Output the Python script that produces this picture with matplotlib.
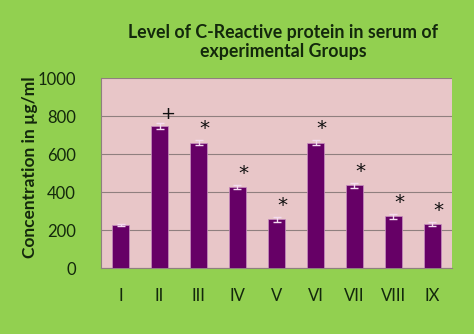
import matplotlib
import numpy as np

matplotlib.use("Agg")

from matplotlib import pyplot as plt  # noqa: E402

groups = ["I", "II", "III", "IV", "V", "VI", "VII", "VIII", "IX"]
crp_means = [228, 749, 661, 426, 258, 661, 437, 274, 235]
crp_errors = [4, 14, 14, 10, 12, 12, 14, 12, 10]
significance = ["", "+", "*", "*", "*", "*", "*", "*", "*"]

GREEN = "#92d050"
TEXT = "#13280c"
BAR = "#660066"

plt.rcParams["font.family"] = ["Lato", "DejaVu Sans"]

figure = plt.figure(figsize=(4.74, 3.34), dpi=100, facecolor=GREEN)
axis = figure.add_axes([101 / 474, 1 - 268.3 / 334, 351 / 474, 190 / 334])
axis.set_facecolor("#e8c6c8")

x = np.arange(len(groups))
axis.bar(x, crp_means, width=0.42, color=BAR, edgecolor="#c890c0",
         linewidth=0.5, zorder=3)
axis.errorbar(
    x, crp_means, yerr=crp_errors, fmt="none",
    ecolor="#f4dcf0", elinewidth=1.0, capsize=3, capthick=1.0, zorder=4,
)
# significance marks sit above each error bar, nudged right
for pos, mean, err, mark in zip(x, crp_means, crp_errors, significance):
    if not mark:
        continue
    is_plus = mark == "+"
    axis.text(
        pos + 0.2 if is_plus else pos + 0.15,
        mean + err + (24 if is_plus else 32),
        mark, ha="center", va="baseline",
        fontsize=13 if is_plus else 14.5,
        color="#101010", family=["DejaVu Sans"], zorder=5,
    )

axis.set_xlim(-0.5, len(groups) - 0.5)
axis.set_ylim(0, 1000)
axis.set_yticks(range(0, 1001, 200))
axis.set_xticks(x)
axis.set_xticklabels(groups)
axis.tick_params(axis="both", length=0, colors=TEXT, labelsize=12)
axis.tick_params(axis="x", pad=14)
axis.tick_params(axis="y", pad=18)
axis.grid(axis="y", color="#8f7f7f", linewidth=0.8, zorder=1)
for side in ("top", "right"):
    axis.spines[side].set_visible(False)
for side in ("left", "bottom"):
    axis.spines[side].set_color("#8f7f7f")
    axis.spines[side].set_linewidth(0.8)

axis.set_ylabel("Concentration in µg/ml", color=TEXT, fontsize=12.5,
                fontweight="bold")
axis.yaxis.set_label_coords((38 - 101) / 351, (268.3 - 167.5) / 190)
figure.text(283 / 474, 1 - 42 / 334,
            "Level of C-Reactive protein in serum of\nexperimental Groups",
            ha="center", va="center", fontsize=12.8, fontweight="bold",
            color=TEXT, linespacing=1.2)

figure.savefig("out.png", dpi=100, facecolor=GREEN)
